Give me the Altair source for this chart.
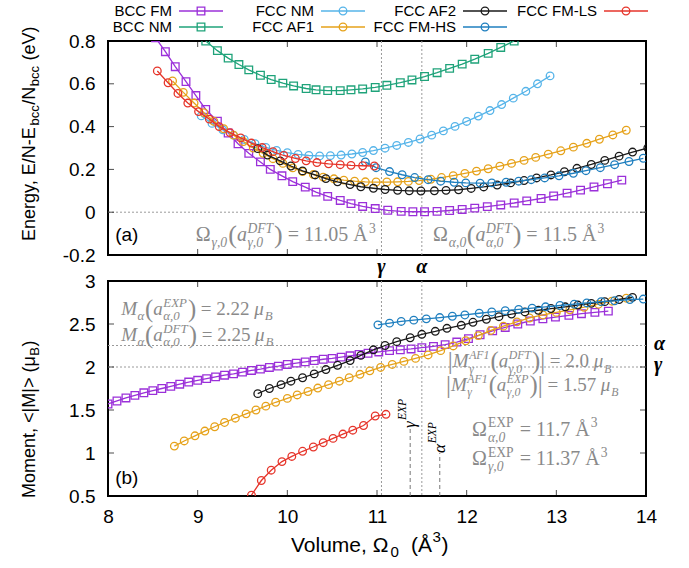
import altair as alt
import pandas as pd

# ----------------------------- data -----------------------------
series_names = ["BCC FM", "BCC NM", "FCC NM", "FCC AF1", "FCC AF2", "FCC FM-HS", "FCC FM-LS"]
series_colors = ["#9b30d9", "#1fa37a", "#56b4e9", "#e6a21a", "#1a1a1a", "#1f7fbf", "#e6352b"]
series_shapes = ["square", "square", "circle", "circle", "circle", "circle", "circle"]

# (a) energy vs volume
bcc_fm_vol_a = [8.53, 8.64, 8.75, 8.87, 8.98, 9.09, 9.22, 9.34, 9.45, 9.57, 9.70, 9.81, 9.94, 10.06,
                10.20, 10.32, 10.45, 10.59, 10.71, 10.84, 10.98, 11.12, 11.27, 11.40, 11.53, 11.67,
                11.81, 11.95, 12.09, 12.23, 12.38, 12.53, 12.67, 12.83, 12.97, 13.12, 13.27, 13.42,
                13.57, 13.73]
bcc_fm_energy = [0.815, 0.75, 0.68, 0.61, 0.545, 0.48, 0.425, 0.37, 0.32, 0.275, 0.235, 0.20, 0.17,
                 0.143, 0.117, 0.094, 0.074, 0.055, 0.04, 0.027, 0.017, 0.009, 0.004, 0.002, 0.002,
                 0.004, 0.008, 0.013, 0.019, 0.026, 0.034, 0.043, 0.053, 0.064, 0.076, 0.089, 0.103,
                 0.118, 0.133, 0.15]
bcc_nm_vol_a = [9.09, 9.22, 9.34, 9.46, 9.57, 9.70, 9.82, 9.95, 10.07, 10.21, 10.32, 10.45, 10.59,
                10.71, 10.84, 10.98, 11.11, 11.26, 11.39, 11.53, 11.67, 11.81, 11.95, 12.09, 12.24,
                12.38, 12.53]
bcc_nm_energy = [0.80, 0.755, 0.72, 0.69, 0.665, 0.64, 0.62, 0.603, 0.59, 0.578, 0.572, 0.568, 0.568,
                 0.572, 0.576, 0.583, 0.593, 0.605, 0.618, 0.634, 0.652, 0.672, 0.692, 0.715, 0.742,
                 0.77, 0.80]
fcc_nm_vol_a = [9.04, 9.16, 9.28, 9.40, 9.52, 9.64, 9.76, 9.88, 10.00, 10.12, 10.24, 10.36, 10.48,
                10.60, 10.72, 10.84, 10.96, 11.09, 11.22, 11.35, 11.48, 11.61, 11.74, 11.87, 12.00,
                12.13, 12.26, 12.39, 12.52, 12.66, 12.79, 12.93]
fcc_nm_energy = [0.45, 0.415, 0.385, 0.36, 0.34, 0.32, 0.303, 0.289, 0.278, 0.27, 0.265, 0.263, 0.264,
                 0.267, 0.272, 0.279, 0.288, 0.299, 0.312, 0.326, 0.342, 0.36, 0.38, 0.401, 0.424,
                 0.449, 0.475, 0.503, 0.533, 0.565, 0.6, 0.637]
fcc_af1_vol_a = [8.72, 8.84, 8.96, 9.07, 9.18, 9.29, 9.40, 9.51, 9.62, 9.73, 9.84, 9.95, 10.06, 10.17,
                 10.29, 10.40, 10.52, 10.63, 10.75, 10.87, 10.99, 11.11, 11.23, 11.35, 11.47, 11.60,
                 11.72, 11.85, 11.98, 12.11, 12.24, 12.37, 12.50, 12.64, 12.77, 12.91, 13.05, 13.19,
                 13.34, 13.48, 13.63, 13.78]
fcc_af1_energy = [0.613, 0.56, 0.51, 0.465, 0.425, 0.39, 0.36, 0.33, 0.30, 0.275, 0.25, 0.228, 0.207,
                  0.19, 0.176, 0.164, 0.156, 0.15, 0.145, 0.142, 0.141, 0.141, 0.142, 0.144, 0.148,
                  0.154, 0.162, 0.171, 0.181, 0.192, 0.203, 0.215, 0.228, 0.242, 0.256, 0.271, 0.287,
                  0.304, 0.322, 0.341, 0.361, 0.383]
fcc_af2_vol_a = [9.67, 9.78, 9.92, 10.04, 10.17, 10.31, 10.43, 10.56, 10.70, 10.82, 10.96, 11.09,
                 11.23, 11.36, 11.49, 11.64, 11.77, 11.91, 12.05, 12.19, 12.34, 12.49, 12.64, 12.78,
                 12.94, 13.09, 13.23, 13.39, 13.54, 13.70, 13.85, 14.02]
fcc_af2_energy = [0.297, 0.267, 0.24, 0.216, 0.193, 0.174, 0.157, 0.142, 0.129, 0.119, 0.112, 0.106,
                  0.102, 0.1, 0.099, 0.1, 0.102, 0.105, 0.111, 0.118, 0.127, 0.137, 0.148, 0.16,
                  0.174, 0.189, 0.205, 0.223, 0.242, 0.262, 0.281, 0.30]
fcc_fmhs_vol_a = [10.87, 10.99, 11.14, 11.28, 11.42, 11.57, 11.71, 11.86, 11.99, 12.15, 12.28, 12.44,
                  12.58, 12.72, 12.87, 13.03, 13.19, 13.33, 13.49, 13.65, 13.81, 13.97]
fcc_fmhs_energy = [0.235, 0.208, 0.19, 0.175, 0.162, 0.152, 0.145, 0.14, 0.137, 0.136, 0.137, 0.14,
                   0.145, 0.152, 0.16, 0.17, 0.182, 0.194, 0.208, 0.222, 0.237, 0.252]
fcc_fmls_vol_a = [8.55, 8.67, 8.78, 8.89, 9.01, 9.13, 9.24, 9.36, 9.48, 9.60, 9.72, 9.84, 9.96, 10.09,
                  10.21, 10.33, 10.46, 10.59, 10.71, 10.84, 10.97]
fcc_fmls_energy = [0.66, 0.605, 0.555, 0.51, 0.47, 0.435, 0.40, 0.372, 0.347, 0.323, 0.302, 0.283,
                   0.265, 0.251, 0.24, 0.232, 0.226, 0.222, 0.219, 0.217, 0.216]

# (b) moment vs volume
bcc_fm_vol_b = [8.00, 8.10, 8.20, 8.30, 8.40, 8.50, 8.60, 8.70, 8.80, 8.90, 9.00, 9.10, 9.20, 9.30,
                9.40, 9.50, 9.60, 9.70, 9.80, 9.90, 10.00, 10.10, 10.20, 10.30, 10.40, 10.50, 10.60,
                10.70, 10.80, 10.90, 11.02, 11.14, 11.26, 11.38, 11.50, 11.63, 11.76, 11.89, 12.02,
                12.15, 12.29, 12.43, 12.57, 12.71, 12.85, 12.99, 13.14, 13.28, 13.43, 13.58]
bcc_fm_moment = [1.57, 1.605, 1.64, 1.67, 1.70, 1.725, 1.75, 1.775, 1.80, 1.825, 1.845, 1.865, 1.885,
                 1.905, 1.92, 1.94, 1.96, 1.975, 1.995, 2.01, 2.03, 2.045, 2.06, 2.075, 2.09, 2.10,
                 2.115, 2.13, 2.145, 2.16, 2.175, 2.19, 2.20, 2.21, 2.225, 2.24, 2.26, 2.29, 2.33,
                 2.375, 2.42, 2.46, 2.50, 2.535, 2.56, 2.58, 2.60, 2.62, 2.635, 2.65]
fcc_af1_vol_b = [8.74, 8.85, 8.97, 9.08, 9.19, 9.30, 9.42, 9.54, 9.65, 9.76, 9.87, 10.00, 10.11,
                 10.23, 10.34, 10.46, 10.58, 10.69, 10.81, 10.92, 11.04, 11.17, 11.30, 11.43, 11.57,
                 11.71, 11.85, 11.99, 12.13, 12.27, 12.41, 12.56, 12.70, 12.85, 13.00, 13.15, 13.31,
                 13.47, 13.62, 13.78]
fcc_af1_moment = [1.08, 1.14, 1.20, 1.255, 1.305, 1.355, 1.405, 1.455, 1.50, 1.545, 1.59, 1.635,
                  1.675, 1.715, 1.755, 1.795, 1.835, 1.875, 1.915, 1.955, 1.995, 2.03, 2.065, 2.10,
                  2.14, 2.19, 2.245, 2.305, 2.365, 2.425, 2.475, 2.525, 2.57, 2.605, 2.635, 2.665,
                  2.695, 2.73, 2.765, 2.80]
fcc_af2_vol_b = [9.67, 9.80, 9.93, 10.04, 10.17, 10.30, 10.43, 10.56, 10.70, 10.82, 10.96, 11.09,
                 11.22, 11.37, 11.50, 11.65, 11.78, 11.94, 12.07, 12.22, 12.36, 12.50, 12.65, 12.80,
                 12.94, 13.10, 13.24, 13.39, 13.54, 13.70, 13.85]
fcc_af2_moment = [1.69, 1.75, 1.795, 1.835, 1.875, 1.92, 1.97, 2.02, 2.075, 2.135, 2.20, 2.25, 2.295,
                  2.34, 2.38, 2.415, 2.45, 2.485, 2.52, 2.555, 2.585, 2.615, 2.64, 2.66, 2.68, 2.70,
                  2.72, 2.74, 2.76, 2.785, 2.81]
fcc_fmhs_vol_b = [11.01, 11.14, 11.27, 11.41, 11.55, 11.70, 11.84, 11.98, 12.14, 12.28, 12.43, 12.58,
                  12.73, 12.88, 13.04, 13.20, 13.34, 13.50, 13.65, 13.82, 13.97]
fcc_fmhs_moment = [2.49, 2.51, 2.53, 2.545, 2.56, 2.575, 2.59, 2.605, 2.625, 2.64, 2.655, 2.67, 2.685,
                   2.70, 2.715, 2.73, 2.745, 2.76, 2.77, 2.785, 2.79]
fcc_fmls_vol_b = [9.60, 9.71, 9.82, 9.94, 10.05, 10.17, 10.29, 10.40, 10.51, 10.62, 10.73, 10.85,
                  10.98, 11.10]
fcc_fmls_moment = [0.51, 0.68, 0.80, 0.90, 0.96, 1.02, 1.07, 1.12, 1.17, 1.22, 1.265, 1.32, 1.43, 1.45]

x_ticks = [8, 9, 10, 11, 12, 13, 14]
energy_ticks = [-0.2, 0, 0.2, 0.4, 0.6, 0.8]
moment_ticks = [0.5, 1, 1.5, 2, 2.5, 3]
dft_volumes = [11.05, 11.5]          # vertical dotted lines
exp_volumes = [11.37, 11.7]          # short dashed markers in (b)
exp_marker_tops = [1.29, 1.0]
moment_refs = [2.25, 2.0]            # horizontal dotted lines in (b)

# ----------------------------- styling helpers -----------------------------
SERIF = "Liberation Serif"
SANS = "Liberation Sans"
GRAY = "#8a8a8a"

SERIF_REG = {' ': 250, '(': 333, ')': 333, '=': 564, '.': 250, ',': 250, '|': 200, 'Å': 722,
             'Ω': 768, 'μ': 500, 'γ': 440, 'α': 520, 'a': 444, 'M': 889, 'D': 722, 'F': 556,
             'T': 611, 'E': 611, 'X': 722, 'P': 556, 'A': 722, 'B': 667}
SERIF_ITA = {'a': 500, 'M': 833, 'D': 722, 'F': 611, 'T': 556, 'E': 611, 'X': 611, 'P': 611,
             'A': 611, 'B': 611, 'γ': 440, 'α': 540, 'μ': 520}
SANS_W = {'E': 667, 'n': 556, 'e': 556, 'r': 333, 'g': 556, 'y': 500, ',': 278, ' ': 278, '/': 278,
          'N': 722, '-': 333, 'b': 556, 'c': 500, '(': 333, ')': 333, 'v': 500, 'V': 667, 'M': 833,
          'o': 556, 'm': 833, 't': 278, '<': 584, '|': 260, '>': 584, 'μ': 576, 'B': 667, 'l': 222,
          'u': 556, 'Ω': 768, 'Å': 667}


def twidth(s, size, italic, family):
    if family == SANS:
        return sum(SANS_W.get(c, 556) for c in s) * size / 1000.0
    tot = 0
    for c in s:
        if italic and c in SERIF_ITA:
            tot += SERIF_ITA[c]
        else:
            tot += SERIF_REG.get(c, 500)
    return tot * size / 1000.0


def rich(base, pieces, size, color=GRAY, family=SERIF, angle=0, baseline="alphabetic", script=0.68):
    """Build a formula from text pieces (normal, sub, sup, stacked scripts, big delimiters)."""
    layers = []
    small = round(size * script, 1)
    big = round(size * 1.3, 1)
    sub_dy = size * 0.3
    sup_dy = -size * 0.42

    def put(txt, x0, dy, fs, italic):
        stripped = txt.strip(" ")
        lead = len(txt) - len(txt.lstrip(" "))
        x = x0 + lead * twidth(" ", fs, italic, family)
        layers.append(base.mark_text(
            text=stripped, dx=round(x, 1), dy=round(dy, 1), fontSize=fs, font=family,
            fontStyle="italic" if italic else "normal", color=color, align="left",
            baseline=baseline, angle=angle))
        return twidth(txt, fs, italic, family)

    cur = 0.0
    for p in pieces:
        kind = p[0]
        if kind == "n":
            cur += put(p[1], cur, 0, size, p[2])
        elif kind == "sub":
            cur += put(p[1], cur + 0.5, sub_dy, small, p[2]) + 1.0
        elif kind == "sup":
            cur += put(p[1], cur + 0.5, sup_dy, small, p[2]) + 1.0
        elif kind == "p":
            cur += put(p[1], cur, size * 0.1, big, False)
        elif kind == "stack":
            w1 = put(p[1], cur + 0.5, sup_dy, small, p[2])
            w2 = put(p[3], cur + 0.5, sub_dy, small, p[4])
            cur += max(w1, w2) + 1.5
    return layers


xs = alt.Scale(domain=[8, 14], nice=False, zero=False)
ys_a = alt.Scale(domain=[-0.2, 0.8], nice=False, zero=False)
ys_b = alt.Scale(domain=[0.5, 3], nice=False, zero=False)
one = pd.DataFrame({"k": [0]})

yaxis_a = alt.Axis(values=energy_ticks, title=None, labelPadding=13,
                   labelExpr="datum.value < 0 ? '-' + format(-datum.value, '.1f') : (datum.value == 0 ? '0' : format(datum.value, '.1f'))")
xaxis_b = alt.Axis(values=x_ticks, title=None, labelPadding=11, format="d")
yaxis_b = alt.Axis(values=moment_ticks, title=None, labelPadding=13, format="~g")
# every layer of a panel carries the same axis definitions so that the merged axes survive
AXES = {"E": (ys_a, None, yaxis_a), "M": (ys_b, xaxis_b, yaxis_b)}


def xy(yname, xfield="V", yfield=None):
    ys, xa, ya = AXES[yname]
    return dict(x=alt.X(f"{xfield}:Q", scale=xs, axis=xa),
                y=alt.Y(f"{yfield or yname}:Q", scale=ys, axis=ya))


def at(xv, yv, yname):
    return alt.Chart(pd.DataFrame({"V": [xv], yname: [yv]})).encode(**xy(yname))


def px(xp, yp):
    return alt.Chart(one).encode(x=alt.value(xp), y=alt.value(yp))


def series_layers(vols, vals, yname, idx):
    df = pd.DataFrame({"V": vols, yname: vals})
    line = alt.Chart(df).mark_line(color=series_colors[idx], strokeWidth=1.3, clip=True).encode(**xy(yname))
    pts = alt.Chart(df).mark_point(shape=series_shapes[idx], filled=False, size=58, strokeWidth=1.3,
                                   color=series_colors[idx], opacity=1, clip=True).encode(**xy(yname))
    return [line, pts]


def tick_layers(yname, yticks, ylo, yhi):
    dfx = pd.DataFrame({"V": x_ticks * 2, yname: [ylo] * len(x_ticks) + [yhi] * len(x_ticks)})
    dfy = pd.DataFrame({"V": [8] * len(yticks) + [14] * len(yticks), yname: yticks * 2})
    return [
        alt.Chart(dfx).mark_tick(orient="vertical", size=12, thickness=1, color="black", clip=True).encode(**xy(yname)),
        alt.Chart(dfy).mark_tick(orient="horizontal", size=12, thickness=1, color="black", clip=True).encode(**xy(yname)),
    ]


dot = dict(color="#9a9a9a", strokeWidth=1, strokeDash=[2, 2])

# ----------------------------- panel (a) -----------------------------
layers_a = []
layers_a.append(alt.Chart(pd.DataFrame({"E": [0]})).mark_rule(**dot).encode(y=xy("E")["y"]))
layers_a.append(alt.Chart(pd.DataFrame({"V": dft_volumes})).mark_rule(**dot).encode(x=xy("E")["x"]))
layers_a += tick_layers("E", energy_ticks, -0.2, 0.8)

a_series = [(bcc_fm_vol_a, bcc_fm_energy), (bcc_nm_vol_a, bcc_nm_energy), (fcc_nm_vol_a, fcc_nm_energy),
            (fcc_af1_vol_a, fcc_af1_energy), (fcc_af2_vol_a, fcc_af2_energy),
            (fcc_fmhs_vol_a, fcc_fmhs_energy), (fcc_fmls_vol_a, fcc_fmls_energy)]
for i, (v, e) in enumerate(a_series):
    layers_a += series_layers(v, e, "E", i)

# annotations (a)
layers_a.append(at(8.21, -0.107, "E").mark_text(text="(a)", font=SANS, fontSize=19, color="black",
                                                align="center", baseline="middle"))
layers_a += rich(at(8.978, -0.135, "E"),
                 [("n", "Ω", False), ("sub", "γ,0", True), ("p", "("), ("n", "a", True),
                  ("stack", "DFT", True, "γ,0", True), ("p", ")"), ("n", " = 11.05 Å", False),
                  ("sup", "3", False)], 20)
layers_a += rich(at(11.624, -0.135, "E"),
                 [("n", "Ω", False), ("sub", "α,0", True), ("p", "("), ("n", "a", True),
                  ("stack", "DFT", True, "α,0", True), ("p", ")"), ("n", " = 11.5 Å", False),
                  ("sup", "3", False)], 20)
for v, g in zip(dft_volumes, ["γ", "α"]):
    layers_a.append(at(v, -0.2, "E").mark_text(text=g, dy=12, font=SERIF, fontSize=20,
                                               fontStyle="italic", fontWeight="bold",
                                               color="black", align="center", baseline="middle"))

# y title (a)
layers_a += rich(px(-78, 200), [("n", "Energy, E/N-E", False), ("sub", "bcc", False), ("n", "/N", False),
                                 ("sub", "bcc", False), ("n", " (eV)", False)],
                 18, color="black", family=SANS, angle=270, baseline="middle", script=0.72)

# legend (laid out column-major, two rows)
leg_text_right = [64, 206, 348, 489]
leg_rows = [-30, -14]
for i, name in enumerate(series_names):
    tx = leg_text_right[i // 2]
    ty = leg_rows[i % 2]
    layers_a.append(px(tx, ty).mark_text(text=name, font=SANS, fontSize=15, color="black",
                                         align="right", baseline="middle"))
    layers_a.append(alt.Chart(one).mark_rule(color=series_colors[i], strokeWidth=1.3).encode(
        x=alt.value(tx + 7), x2=alt.value(tx + 51), y=alt.value(ty)))
    layers_a.append(px(tx + 29, ty).mark_point(shape=series_shapes[i], filled=False, size=58,
                                               strokeWidth=1.3, color=series_colors[i], opacity=1))

top = alt.layer(*layers_a).properties(width=538, height=214)

# ----------------------------- panel (b) -----------------------------
layers_b = []
layers_b.append(alt.Chart(pd.DataFrame({"M": moment_refs})).mark_rule(**dot).encode(y=xy("M")["y"]))
layers_b.append(alt.Chart(pd.DataFrame({"V": dft_volumes})).mark_rule(**dot).encode(x=xy("M")["x"]))
layers_b.append(alt.Chart(pd.DataFrame({"V": exp_volumes, "M": [0.5, 0.5], "M1": exp_marker_tops}))
                .mark_rule(color="#777777", strokeWidth=1, strokeDash=[4, 3]).encode(
    **xy("M"), y2="M1:Q"))
layers_b += tick_layers("M", moment_ticks, 0.5, 3)

b_series = [(0, bcc_fm_vol_b, bcc_fm_moment), (3, fcc_af1_vol_b, fcc_af1_moment),
            (4, fcc_af2_vol_b, fcc_af2_moment), (5, fcc_fmhs_vol_b, fcc_fmhs_moment),
            (6, fcc_fmls_vol_b, fcc_fmls_moment)]
for i, v, m in b_series:
    layers_b += series_layers(v, m, "M", i)

layers_b.append(at(8.21, 0.71, "M").mark_text(text="(b)", font=SANS, fontSize=19, color="black",
                                              align="center", baseline="middle"))
layers_b += rich(at(8.148, 2.608, "M"),
                 [("n", "M", True), ("sub", "α", True), ("p", "("), ("n", "a", True),
                  ("stack", "EXP", True, "α,0", True), ("p", ")"), ("n", " = 2.22 ", False),
                  ("n", "μ", True), ("sub", "B", True)], 19)
layers_b += rich(at(8.148, 2.306, "M"),
                 [("n", "M", True), ("sub", "α", True), ("p", "("), ("n", "a", True),
                  ("stack", "DFT", True, "α,0", True), ("p", ")"), ("n", " = 2.25 ", False),
                  ("n", "μ", True), ("sub", "B", True)], 19)
layers_b += rich(at(11.79, 1.997, "M"),
                 [("p", "|"), ("n", "M", True), ("stack", "AF1", True, "γ", True), ("p", "("),
                  ("n", "a", True), ("stack", "DFT", True, "γ,0", True), ("p", ")"), ("p", "|"),
                  ("n", " = 2.0 ", False), ("n", "μ", True), ("sub", "B", True)], 19, script=0.62)
layers_b += rich(at(11.77, 1.725, "M"),
                 [("p", "|"), ("n", "M", True), ("stack", "AF1", True, "γ", True), ("p", "("),
                  ("n", "a", True), ("stack", "EXP", True, "γ,0", True), ("p", ")"), ("p", "|"),
                  ("n", " = 1.57 ", False), ("n", "μ", True), ("sub", "B", True)], 19, script=0.62)
layers_b += rich(at(12.06, 1.201, "M"),
                 [("n", "Ω", False), ("stack", "EXP", False, "α,0", True), ("n", " = 11.7 Å", False),
                  ("sup", "3", False)], 20)
layers_b += rich(at(12.06, 0.857, "M"),
                 [("n", "Ω", False), ("stack", "EXP", False, "γ,0", True), ("n", " = 11.37 Å", False),
                  ("sup", "3", False)], 20)
# vertical EXP labels
for v, top_m, g in zip(exp_volumes, exp_marker_tops, ["γ", "α"]):
    layers_b += rich(at(v, top_m, "M"), [("n", g, True), ("sup", "EXP", True)], 17,
                     color="black", angle=270, baseline="middle")
# right-side labels
for mref, g in zip(moment_refs, ["α", "γ"]):
    layers_b.append(at(14, mref, "M").mark_text(text=g, dx=8, dy=-2, font=SERIF, fontSize=20,
                                                fontStyle="italic", fontWeight="bold",
                                                color="black", align="left", baseline="middle"))
# axis titles (b)
layers_b += rich(px(-78, 217), [("n", "Moment, <|M|> (μ", False), ("sub", "B", False), ("n", ")", False)],
                 18, color="black", family=SANS, angle=270, baseline="middle", script=0.72)
layers_b += rich(px(183, 265), [("n", "Volume, Ω", False), ("sub", "0", False), ("n", "  (Å", False),
                                 ("sup", "3", False), ("n", ")", False)],
                 21, color="black", family=SANS, baseline="middle", script=0.72)

bottom = alt.layer(*layers_b).properties(width=538, height=215)

chart = alt.vconcat(top, bottom, spacing=26, bounds="flush").properties(
    padding={"left": 19, "top": 3, "right": 0, "bottom": 0}, background="white"
).configure_view(stroke="black", strokeWidth=2).configure_axis(
    grid=False, domain=False, ticks=False, tickSize=0, labelFont=SANS, labelFontSize=19,
    labelColor="black", labelFlush=False, labelOverlap=False)

chart.save("out.html", embed_options={"renderer": "svg", "actions": False})
